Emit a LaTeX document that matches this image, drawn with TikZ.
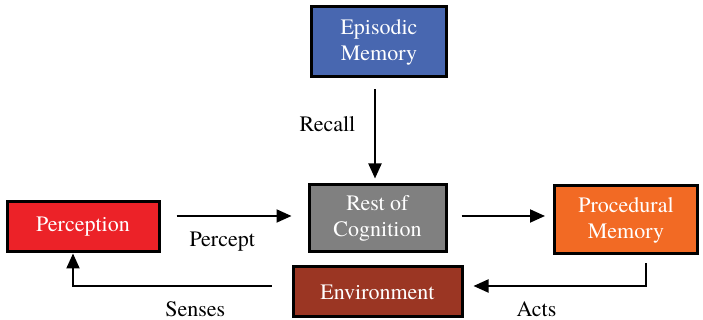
\documentclass[tikz,border=0pt]{standalone}
\usepackage{fontspec}
\setmainfont{texgyretermes-regular.otf}
\usepackage{tikz}
\usetikzlibrary{arrows.meta, positioning}

\definecolor{epiblue}{RGB}{72,103,176}
\definecolor{restgray}{RGB}{128,128,128}
\definecolor{envbrown}{RGB}{155,54,35}
\definecolor{percred}{RGB}{236,34,40}
\definecolor{procorange}{RGB}{242,106,36}

\begin{document}
\begin{tikzpicture}[
    x=0.5pt, y=0.5pt,
    box/.style={rectangle, draw, line width=1.5pt, align=center, text=white, inner sep=0pt,
        font=\fontsize{11}{13}\selectfont},
    lbl/.style={font=\fontsize{11}{13}\selectfont},
    arrow/.style={-{Triangle[length=7.5pt,width=6.5pt]}, line width=1pt}
]
\useasboundingbox (0,0) rectangle (703,320);

% Nodes
\node[box, fill=epiblue, minimum width=67.5pt, minimum height=35pt] (episodic) at (379,278) {Episodic\\Memory};
\node[box, fill=restgray, minimum width=68.5pt, minimum height=33.5pt] (rest) at (377.5,101.5) {Rest of\\Cognition};
\node[box, fill=envbrown, minimum width=84.5pt, minimum height=25pt] (env) at (377.5,28) {Environment};
\node[box, fill=percred, minimum width=76pt, minimum height=25pt] (perception) at (83,93) {Perception};
\node[box, fill=procorange, minimum width=71.5pt, minimum height=34pt] (procedural) at (626,100) {Procedural\\Memory};

% Arrows
\draw[arrow, shorten <=5.5pt, shorten >=2.5pt] (episodic.south -| 375,0) -- node[lbl, left=6pt, pos=0.43] (recall) {Recall} (rest.north -| 375,0);
\draw[arrow, shorten <=8pt, shorten >=8pt] (perception.east |- 0,104) -- node[lbl, below=4pt, pos=0.42] (percept) {Percept} (rest.west |- 0,104);
\draw[arrow, shorten <=7pt, shorten >=4pt] (rest.east |- 0,104) -- (procedural.west |- 0,104);
\draw[arrow, shorten <=4pt, shorten >=5pt] ([xshift=10pt]procedural.south) |- node[lbl, below=4pt, pos=0.8] (acts) {Acts} ([yshift=3pt]env.east);
\draw[arrow, shorten <=10pt] ([yshift=3pt]env.west) -| node[lbl, below=4pt, pos=0.22] (senses) {Senses} ([xshift=-5pt]perception.south);

\end{tikzpicture}
\end{document}
